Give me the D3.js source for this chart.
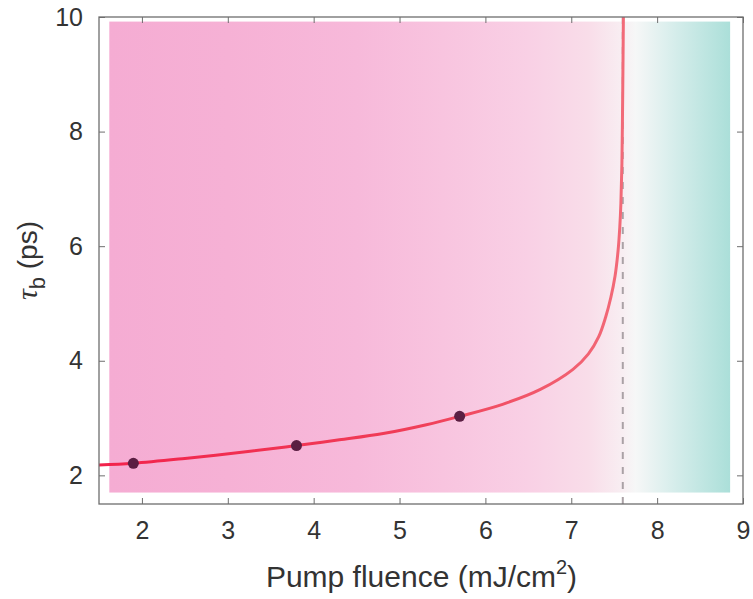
<!DOCTYPE html>
<html><head><meta charset="utf-8">
<script src="https://cdn.jsdelivr.net/npm/d3@7"></script>
<style>body{margin:0;background:#fff}svg{display:block}</style>
</head><body>
<svg id="c" width="753" height="599"></svg>
<script>
// ---- data ----
const xTicks = [2, 3, 4, 5, 6, 7, 8, 9];
const yTicks = [2, 4, 6, 8, 10];
const curveX = [1.5, 1.9, 2.5, 3.26, 3.8, 4.3, 4.81, 5.3, 5.7, 6.2, 6.64, 7.02, 7.2, 7.32, 7.4, 7.46, 7.51, 7.545, 7.565, 7.578, 7.59, 7.597, 7.603, 7.607];
const curveY = [2.18, 2.21, 2.295, 2.42, 2.52, 2.62, 2.73, 2.88, 3.03, 3.24, 3.5, 3.85, 4.12, 4.42, 4.76, 5.1, 5.48, 5.92, 6.33, 6.75, 7.45, 8.35, 9.3, 10.0];
const pointX = [1.9, 3.8, 5.7];
const pointY = [2.21, 2.52, 3.03];
const thresholdX = 7.6;
const bgX = [1.62, 8.85];
const bgY = [1.7, 9.92];
const bgStopX = [1.62, 3.0, 4.5, 5.5, 6.5, 7.2, 7.6, 7.75, 8.2, 8.85];
const bgStopC = ["#f5acd3", "#f6b1d5", "#f7b9da", "#f8c4df", "#f9d0e5", "#f9dde9", "#f8eef2", "#f6f7f7", "#d6edeb", "#abdfd9"];

const svg = d3.select("#c");
const L = 99, R = 743, T = 17, B = 504;
const x = d3.scaleLinear().domain([1.5, 9]).range([L, R]);
const y = d3.scaleLinear().domain([1.5, 10]).range([B, T]);

const defs = svg.append("defs");
const g1 = defs.append("linearGradient").attr("id", "bg").attr("gradientUnits", "userSpaceOnUse")
  .attr("x1", x(bgX[0])).attr("x2", x(bgX[1])).attr("y1", 0).attr("y2", 0);
bgStopX.forEach((v, i) => g1.append("stop")
  .attr("offset", (v - bgX[0]) / (bgX[1] - bgX[0])).attr("stop-color", bgStopC[i]));
const g2 = defs.append("linearGradient").attr("id", "ln").attr("gradientUnits", "userSpaceOnUse")
  .attr("x1", x(1.5)).attr("x2", x(7.6)).attr("y1", 0).attr("y2", 0);
g2.append("stop").attr("offset", 0).attr("stop-color", "#f2224b");
g2.append("stop").attr("offset", 0.6).attr("stop-color", "#f03e58");
g2.append("stop").attr("offset", 1).attr("stop-color", "#f26a78");
defs.append("clipPath").attr("id", "clip").append("rect")
  .attr("x", L).attr("y", T).attr("width", R - L).attr("height", B - T);

svg.append("rect").attr("x", x(bgX[0])).attr("y", y(bgY[1]))
  .attr("width", x(bgX[1]) - x(bgX[0])).attr("height", y(bgY[0]) - y(bgY[1]))
  .attr("fill", "url(#bg)");

// dashed threshold
svg.append("line").attr("x1", x(thresholdX)).attr("x2", x(thresholdX))
  .attr("y1", T).attr("y2", B).attr("stroke", "#aaa1a6").attr("stroke-width", 2)
  .attr("stroke-dasharray", "7,8");

// curve
const pts = curveX.map((v, i) => [v, curveY[i]]);
svg.append("path").datum(pts).attr("clip-path", "url(#clip)")
  .attr("d", d3.line().x(d => x(d[0])).y(d => y(d[1])).curve(d3.curveCatmullRom.alpha(0.5)))
  .attr("fill", "none").attr("stroke", "url(#ln)").attr("stroke-width", 3);

// points
svg.selectAll("circle.p").data(pointX).enter().append("circle")
  .attr("cx", d => x(d)).attr("cy", (d, i) => y(pointY[i])).attr("r", 5.5)
  .attr("fill", "#5a1e42");

// frame + ticks
const ax = "#6e6e6e";
const tk = 6;
const ff = "Liberation Sans, Arial, sans-serif";
svg.append("g").attr("transform", `translate(0,${B})`)
  .call(d3.axisBottom(x).tickValues(xTicks).tickSize(-tk).tickPadding(12).tickFormat(d3.format("d")))
  .call(g => { g.select(".domain").remove(); g.selectAll("line").attr("stroke", ax);
    g.selectAll("text").attr("font-size", 25).attr("fill", "#333").attr("font-family", ff).attr("dy", "0.93em"); });
svg.append("g").attr("transform", `translate(0,${T})`)
  .call(d3.axisTop(x).tickValues(xTicks).tickSize(-tk).tickFormat(""))
  .call(g => { g.select(".domain").remove(); g.selectAll("line").attr("stroke", ax); });
svg.append("g").attr("transform", `translate(${L},0)`)
  .call(d3.axisLeft(y).tickValues(yTicks).tickSize(-tk).tickPadding(16).tickFormat(d3.format("d")))
  .call(g => { g.select(".domain").remove(); g.selectAll("line").attr("stroke", ax);
    g.selectAll("text").attr("font-size", 25).attr("fill", "#333").attr("font-family", ff); });
svg.append("g").attr("transform", `translate(${R},0)`)
  .call(d3.axisRight(y).tickValues(yTicks).tickSize(-tk).tickFormat(""))
  .call(g => { g.select(".domain").remove(); g.selectAll("line").attr("stroke", ax); });

svg.append("rect").attr("x", L).attr("y", T).attr("width", R - L).attr("height", B - T)
  .attr("fill", "none").attr("stroke", ax).attr("stroke-width", 1.3);

// labels
const xl = svg.append("text").attr("x", (L + R) / 2 + 0.5).attr("y", 587).attr("text-anchor", "middle")
  .attr("font-family", ff).attr("font-size", 30).attr("fill", "#333");
xl.append("tspan").text("Pump fluence (mJ/cm");
xl.append("tspan").text("2").attr("font-size", 20).attr("dy", -13);
xl.append("tspan").text(")").attr("dy", 13);

const yl = svg.append("text").attr("transform", `translate(37,${(T + B) / 2}) rotate(-90)`)
  .attr("text-anchor", "middle").attr("font-family", ff).attr("font-size", 28).attr("fill", "#333");
yl.append("tspan").text("τ").attr("font-style", "italic").attr("font-family", "Liberation Serif, serif").attr("font-size", 30);
yl.append("tspan").text("b").attr("font-size", 22).attr("dy", 8);
yl.append("tspan").text(" (ps)").attr("dy", -8);
</script>
</body></html>
